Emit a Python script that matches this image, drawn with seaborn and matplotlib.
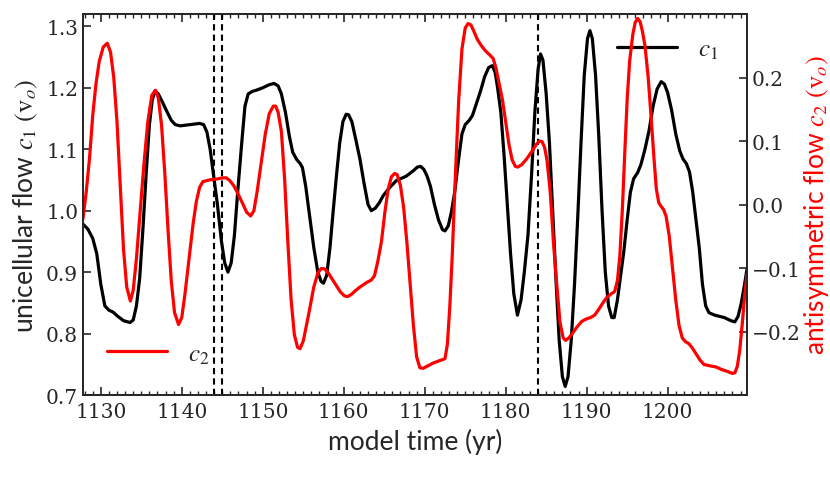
import matplotlib
matplotlib.use("Agg")
import matplotlib.pyplot as plt
from matplotlib.ticker import MultipleLocator
import pandas as pd
import seaborn as sns


# =========================
# DATA
# =========================
t_c1 = [1127.8, 1128.4, 1129.0, 1129.5, 1130.0, 1130.5, 1131.0, 1131.5, 1132.1, 1132.8,
        1133.6, 1134.0, 1134.4, 1134.8, 1135.2, 1135.6, 1136.0, 1136.35, 1136.7, 1137.1,
        1137.6, 1138.1, 1138.7, 1139.2, 1139.8, 1141.0, 1142.2, 1142.7, 1143.1, 1143.5,
        1143.9, 1144.4, 1144.9, 1145.3, 1145.7, 1146.1, 1146.5, 1146.9, 1147.4, 1147.8,
        1148.2, 1148.7, 1149.2, 1150.0, 1150.8, 1151.4, 1151.9, 1152.3, 1152.8, 1153.3,
        1153.7, 1154.2, 1154.6, 1154.9, 1155.3, 1155.8, 1156.3, 1156.8, 1157.2, 1157.5,
        1157.9, 1158.3, 1158.7, 1159.1, 1159.5, 1159.9, 1160.3, 1160.6, 1161.0, 1161.5,
        1162.0, 1162.5, 1163.0, 1163.4, 1163.9, 1164.4, 1164.9, 1165.7, 1166.5, 1167.7,
        1168.6, 1169.1, 1169.5, 1169.9, 1170.3, 1170.7, 1171.2, 1171.7, 1172.2, 1172.5,
        1172.9, 1173.3, 1173.7, 1174.2, 1174.6, 1175.0, 1175.5, 1175.9, 1176.4, 1176.9,
        1177.4, 1177.9, 1178.35, 1178.7, 1179.0, 1179.4, 1179.8, 1180.2, 1180.6, 1181.0,
        1181.45, 1181.9, 1182.3, 1182.75, 1183.2, 1183.6, 1184.0, 1184.3, 1184.6, 1185.0,
        1185.4, 1185.8, 1186.2, 1186.6, 1187.0, 1187.35, 1187.7, 1188.1, 1188.5, 1188.9,
        1189.3, 1189.7, 1190.1, 1190.4, 1190.7, 1191.1, 1191.5, 1191.9, 1192.3, 1192.7,
        1193.1, 1193.4, 1193.8, 1194.2, 1194.6, 1195.0, 1195.4, 1195.8, 1196.3, 1196.7,
        1197.2, 1197.7, 1198.2, 1198.7, 1199.2, 1199.6, 1200.0, 1200.5, 1201.0, 1201.5,
        1201.9, 1202.3, 1202.7, 1203.1, 1203.5, 1203.9, 1204.3, 1204.7, 1205.1, 1205.8,
        1207.0, 1207.8, 1208.3, 1208.7, 1209.1, 1209.5, 1209.8]
c1 = [0.978, 0.970, 0.955, 0.930, 0.880, 0.845, 0.838, 0.835, 0.828, 0.821,
      0.818, 0.822, 0.845, 0.890, 0.970, 1.060, 1.140, 1.180, 1.195, 1.190,
      1.177, 1.163, 1.147, 1.140, 1.138, 1.140, 1.142, 1.140, 1.128, 1.100,
      1.060, 1.010, 0.950, 0.915, 0.900, 0.915, 0.960, 1.030, 1.110, 1.170,
      1.190, 1.194, 1.196, 1.200, 1.205, 1.207, 1.203, 1.190, 1.160, 1.120,
      1.095, 1.083, 1.077, 1.070, 1.040, 0.990, 0.940, 0.900, 0.885, 0.882,
      0.895, 0.940, 1.000, 1.057, 1.110, 1.145, 1.157, 1.156, 1.145, 1.115,
      1.084, 1.045, 1.010, 1.000, 1.004, 1.013, 1.025, 1.038, 1.049, 1.056,
      1.065, 1.071, 1.072, 1.067, 1.056, 1.040, 1.010, 0.985, 0.969, 0.967,
      0.975, 0.998, 1.030, 1.085, 1.125, 1.140, 1.147, 1.155, 1.175, 1.195,
      1.218, 1.233, 1.236, 1.225, 1.200, 1.160, 1.090, 1.010, 0.930, 0.865,
      0.830, 0.855, 0.900, 0.960, 1.060, 1.160, 1.230, 1.255, 1.245, 1.190,
      1.111, 1.000, 0.890, 0.790, 0.730, 0.714, 0.730, 0.790, 0.880, 0.990,
      1.110, 1.220, 1.280, 1.293, 1.280, 1.220, 1.120, 1.000, 0.900, 0.845,
      0.826, 0.826, 0.855, 0.895, 0.935, 0.985, 1.030, 1.052, 1.062, 1.075,
      1.100, 1.130, 1.170, 1.198, 1.210, 1.206, 1.192, 1.163, 1.125, 1.097,
      1.084, 1.077, 1.063, 1.030, 0.985, 0.940, 0.880, 0.845, 0.834, 0.830,
      0.826, 0.821, 0.819, 0.828, 0.850, 0.880, 0.905]

t_c2 = [1127.8, 1128.2, 1128.6, 1129.0, 1129.4, 1129.8, 1130.3, 1130.8, 1131.2, 1131.6,
        1132.0, 1132.4, 1132.8, 1133.2, 1133.65, 1134.0, 1134.4, 1134.8, 1135.3, 1135.8,
        1136.3, 1136.75, 1137.1, 1137.5, 1137.9, 1138.3, 1138.7, 1139.1, 1139.6, 1140.0,
        1140.4, 1140.9, 1141.4, 1141.8, 1142.2, 1142.6, 1143.5, 1144.3, 1145.0, 1145.5,
        1145.9, 1146.4, 1146.9, 1147.5, 1148.0, 1148.5, 1148.9, 1149.3, 1149.8, 1150.3,
        1150.8, 1151.3, 1151.6, 1151.9, 1152.3, 1152.7, 1153.1, 1153.5, 1153.9, 1154.3,
        1154.6, 1155.0, 1155.4, 1155.8, 1156.3, 1156.8, 1157.2, 1157.6, 1158.1, 1158.6,
        1159.1, 1159.6, 1160.1, 1160.5, 1161.0, 1161.5, 1162.0, 1162.8, 1163.4, 1163.8,
        1164.2, 1164.65, 1165.1, 1165.5, 1165.9, 1166.3, 1166.6, 1167.0, 1167.4, 1167.8,
        1168.2, 1168.6, 1169.0, 1169.4, 1169.8, 1170.4, 1171.0, 1171.8, 1172.5, 1172.8,
        1173.1, 1173.4, 1173.8, 1174.2, 1174.6, 1175.0, 1175.35, 1175.7, 1176.1, 1176.5,
        1177.0, 1177.5, 1178.0, 1178.45, 1178.8, 1179.2, 1179.6, 1180.0, 1180.4, 1180.8,
        1181.2, 1181.5, 1182.0, 1182.6, 1183.2, 1183.8, 1184.2, 1184.5, 1184.8, 1185.1,
        1185.5, 1185.9, 1186.3, 1186.7, 1187.1, 1187.4, 1187.8, 1188.3, 1188.8, 1189.4,
        1190.0, 1190.5, 1191.0, 1191.5, 1192.0, 1192.5, 1193.0, 1193.45, 1193.8, 1194.1,
        1194.4, 1194.7, 1195.0, 1195.3, 1195.7, 1196.0, 1196.3, 1196.6, 1196.9, 1197.2,
        1197.6, 1198.0, 1198.3, 1198.6, 1198.9, 1199.2, 1199.5, 1199.8, 1200.2, 1200.6,
        1201.0, 1201.4, 1201.8, 1202.2, 1202.6, 1203.0, 1203.5, 1204.0, 1204.5, 1205.2,
        1206.0, 1206.7, 1207.4, 1208.0, 1208.3, 1208.6, 1208.9, 1209.2, 1209.5, 1209.8]
c2 = [-0.022, 0.020, 0.072, 0.140, 0.190, 0.225, 0.248, 0.254, 0.240, 0.200,
      0.130, 0.030, -0.070, -0.130, -0.152, -0.135, -0.085, -0.020, 0.060, 0.130,
      0.172, 0.180, 0.168, 0.125, 0.050, -0.040, -0.120, -0.170, -0.189, -0.178,
      -0.140, -0.085, -0.030, 0.005, 0.027, 0.036, 0.039, 0.040, 0.042, 0.042,
      0.038, 0.030, 0.018, 0.002, -0.012, -0.018, -0.010, 0.020, 0.065, 0.110,
      0.143, 0.155, 0.155, 0.145, 0.115, 0.040, -0.060, -0.150, -0.205, -0.225,
      -0.227, -0.215, -0.190, -0.164, -0.130, -0.108, -0.101, -0.101, -0.108, -0.118,
      -0.128, -0.138, -0.144, -0.145, -0.141, -0.135, -0.130, -0.123, -0.119, -0.112,
      -0.090, -0.059, -0.010, 0.025, 0.044, 0.049, 0.047, 0.030, -0.005, -0.060,
      -0.125, -0.190, -0.240, -0.257, -0.258, -0.254, -0.250, -0.246, -0.243, -0.220,
      -0.160, -0.080, 0.050, 0.165, 0.245, 0.278, 0.285, 0.283, 0.272, 0.260,
      0.250, 0.242, 0.236, 0.230, 0.215, 0.190, 0.165, 0.130, 0.095, 0.070,
      0.060, 0.059, 0.063, 0.072, 0.083, 0.095, 0.100, 0.099, 0.090, 0.070,
      0.020, -0.060, -0.125, -0.185, -0.210, -0.214, -0.210, -0.202, -0.193, -0.184,
      -0.180, -0.178, -0.174, -0.165, -0.155, -0.146, -0.141, -0.137, -0.120, -0.080,
      -0.010, 0.080, 0.165, 0.225, 0.268, 0.287, 0.293, 0.288, 0.272, 0.250,
      0.200, 0.130, 0.075, 0.025, 0.003, -0.003, -0.008, -0.018, -0.050, -0.100,
      -0.150, -0.190, -0.210, -0.216, -0.219, -0.225, -0.235, -0.245, -0.252, -0.254,
      -0.256, -0.260, -0.263, -0.266, -0.265, -0.255, -0.230, -0.190, -0.145, -0.110]

event_years = [1144, 1145, 1184]
c1_ticks = [0.7, 0.8, 0.9, 1.0, 1.1, 1.2, 1.3]
c2_ticks = [-0.2, -0.1, 0.0, 0.1, 0.2]

# =========================
# STYLE
# =========================
sns.set_style("ticks")
plt.rcParams["font.family"] = ["DejaVu Serif"]
plt.rcParams["mathtext.fontset"] = "stix"
plt.rcParams["axes.linewidth"] = 1.3
LABEL_FONT = "Lato"
LABEL_SIZE = 19
TICK_SIZE = 14.5

df1 = pd.DataFrame({"t": t_c1, "c1": c1})
df2 = pd.DataFrame({"t": t_c2, "c2": c2})

fig = plt.figure(figsize=(8.3, 4.85), dpi=100)
ax = fig.add_axes([0.100, 0.1835, 0.800, 0.7855])
ax2 = ax.twinx()

sns.lineplot(data=df1, x="t", y="c1", ax=ax, color="black", lw=2.3, sort=False)
sns.lineplot(data=df2, x="t", y="c2", ax=ax2, color="red", lw=2.3, sort=False)

for yr in event_years:
    ax.axvline(yr, color="black", lw=1.5, dashes=(3, 2))

# axes limits / ticks
ax.set_xlim(1127.8, 1209.8)
ax.set_ylim(0.7, 1.32)
ax2.set_ylim(-0.3, 0.3)

ax.xaxis.set_major_locator(MultipleLocator(10))
ax.xaxis.set_minor_locator(MultipleLocator(1))
ax.set_yticks(c1_ticks)
ax2.set_yticks(c2_ticks)

ax.tick_params(axis="x", which="major", direction="in", top=True, length=6, width=1.2,
               labelsize=TICK_SIZE, pad=5)
ax.tick_params(axis="x", which="minor", direction="in", top=True, length=3, width=1.0)
ax.tick_params(axis="y", which="major", direction="in", right=False, length=6, width=1.2,
               labelsize=TICK_SIZE)
ax2.tick_params(axis="y", which="major", direction="in", length=6, width=1.2,
                labelsize=TICK_SIZE)

ax.set_xlabel("model time (yr)", fontsize=LABEL_SIZE, family=LABEL_FONT, labelpad=5)
ax.set_ylabel(r"unicellular flow $c_1$ $(\mathrm{v}_o)$", fontsize=LABEL_SIZE,
              family=LABEL_FONT, labelpad=4)
ax2.set_ylabel(r"antisymmetric flow $c_2$ $(\mathrm{v}_o)$", fontsize=LABEL_SIZE,
               family=LABEL_FONT, color="red", labelpad=1)

# legends (no frame, placed like the reference)
h1 = ax.get_lines()[0]
h2 = ax2.get_lines()[0]
ax.legend([h1], [r"$c_1$"], loc="center left", bbox_to_anchor=(0.804, 0.908),
          frameon=False, fontsize=18, handlelength=2.4, handletextpad=0.85,
          borderpad=0, borderaxespad=0)
ax2.legend([h2], [r"$c_2$"], loc="center left", bbox_to_anchor=(0.036, 0.108),
           frameon=False, fontsize=18, handlelength=2.4, handletextpad=0.85,
           borderpad=0, borderaxespad=0)

ax.set_zorder(0)
ax2.set_zorder(1)
ax2.patch.set_visible(False)

fig.savefig("out.png", dpi=100)
plt.close()
